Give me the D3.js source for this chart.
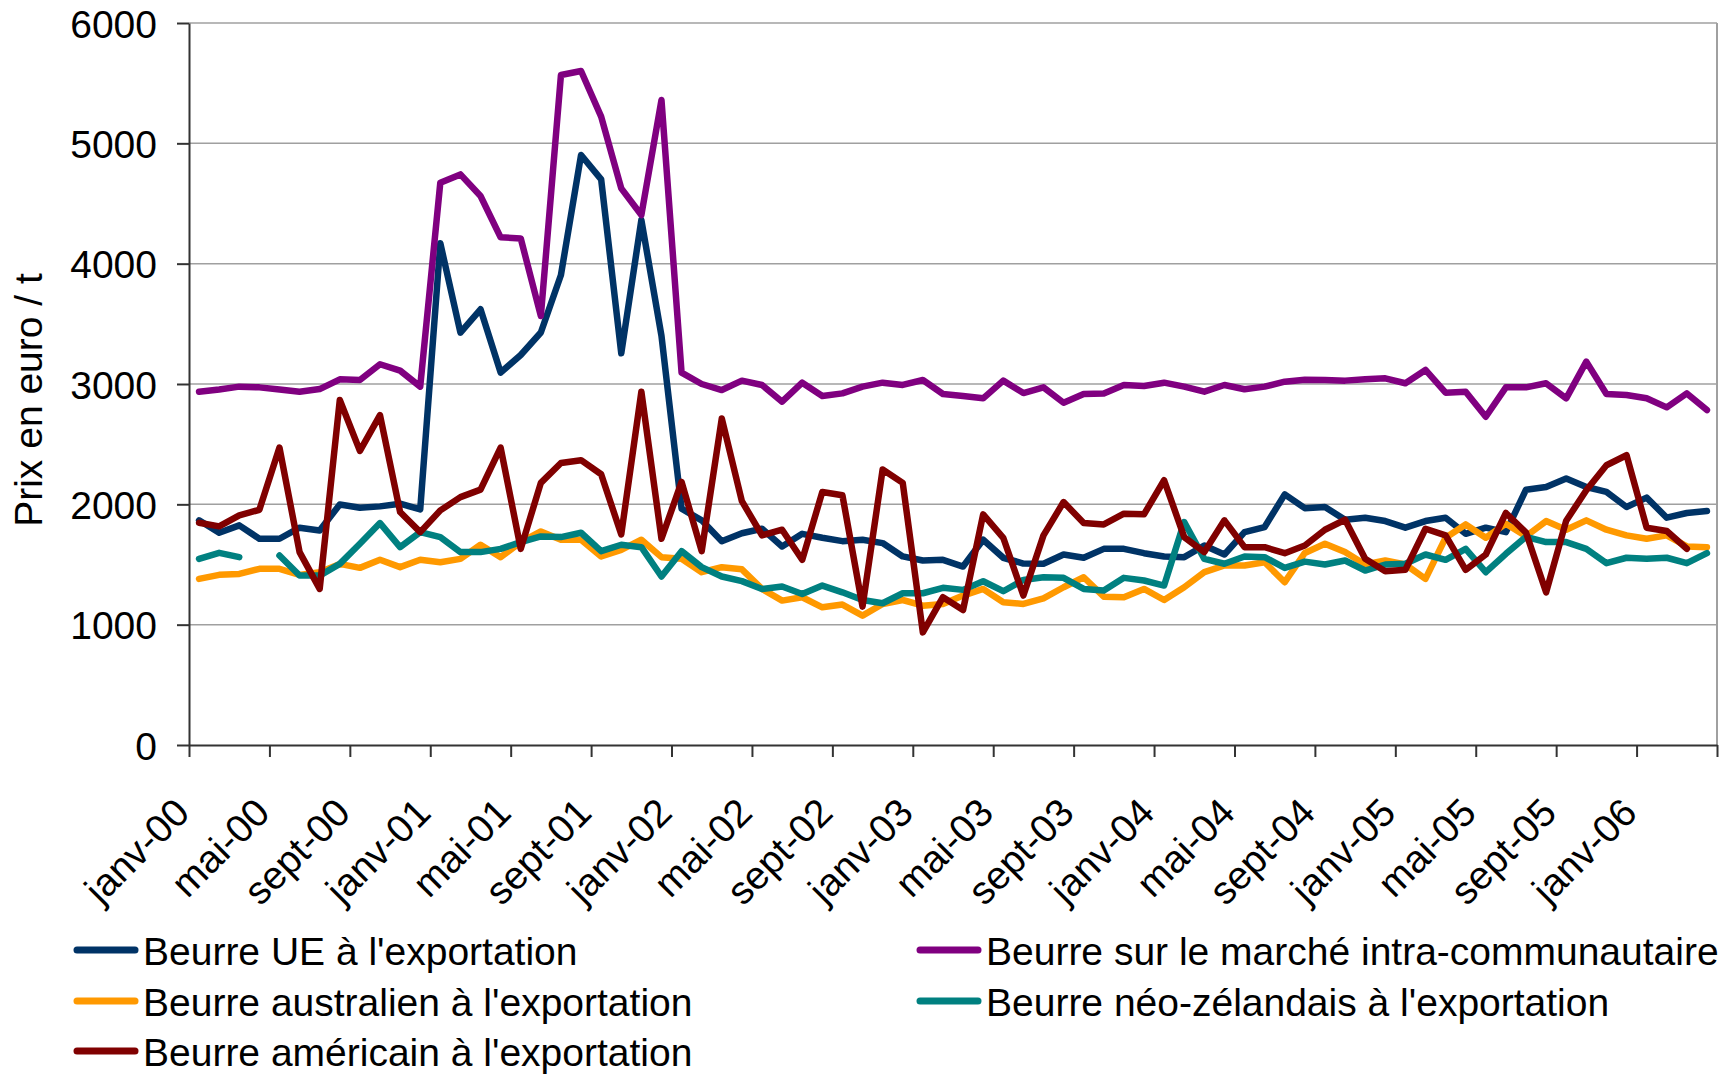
<!DOCTYPE html>
<html>
<head>
<meta charset="utf-8">
<script src="https://cdn.jsdelivr.net/npm/d3@7"></script>
<style>
  body { margin: 0; background: #fff; }
  svg { display: block; }
  text { font-family: "Liberation Sans", Arial, sans-serif; fill: #000; }
</style>
</head>
<body>
<svg id="chart" width="1733" height="1075"></svg>
<script>
// categories: monthly, janv-00 .. avr-06
const monthNames = ['janv', 'févr', 'mars', 'avr', 'mai', 'juin', 'juil', 'août', 'sept', 'oct', 'nov', 'déc'];
const months = d3.range(76).map(i => monthNames[i % 12] + '-' + String(Math.floor(i / 12)).padStart(2, '0'));
const tickLabels = ['janv-00', 'mai-00', 'sept-00', 'janv-01', 'mai-01', 'sept-01', 'janv-02', 'mai-02',
	'sept-02', 'janv-03', 'mai-03', 'sept-03', 'janv-04', 'mai-04', 'sept-04', 'janv-05', 'mai-05',
	'sept-05', 'janv-06'];

// prices in euro / t
const ueExport = [
	1867, 1764, 1825, 1714, 1714, 1806, 1783, 1999, 1972, 1983, 2005, 1958,
	4169, 3427, 3621, 3095, 3241, 3428, 3906, 4903, 4701, 3255, 4363, 3400,
	1964, 1867, 1694, 1760, 1797, 1650, 1755, 1722, 1694, 1706, 1678, 1567,
	1533, 1539, 1483, 1706, 1556, 1508, 1506, 1583, 1556, 1630, 1630, 1594,
	1567, 1561, 1658, 1583, 1769, 1811, 2083, 1968, 1978, 1872, 1889, 1861,
	1806, 1861, 1889, 1755, 1806, 1769, 2122, 2144, 2214, 2144, 2103, 1978,
	2056, 1889, 1928, 1944];
const intraMarket = [
	2936, 2955, 2978, 2972, 2955, 2936, 2958, 3039, 3033, 3164, 3111, 2978,
	4673, 4742, 4562, 4219, 4210, 3565, 5568, 5601, 5222, 4626, 4404, 5360,
	3094, 3000, 2950, 3028, 2992, 2853, 3011, 2900, 2922, 2978, 3011, 2992,
	3033, 2917, 2900, 2881, 3028, 2925, 2972, 2844, 2917, 2922, 2992, 2983,
	3011, 2978, 2936, 2992, 2956, 2978, 3019, 3036, 3033, 3028, 3039, 3047,
	3006, 3117, 2928, 2936, 2728, 2972, 2972, 3006, 2881, 3186, 2917, 2908,
	2881, 2806, 2922, 2783];
const australia = [
	1380, 1414, 1422, 1464, 1464, 1414, 1436, 1505, 1472, 1539, 1478, 1539,
	1519, 1547, 1664, 1561, 1686, 1775, 1706, 1706, 1567, 1622, 1706, 1561,
	1547, 1436, 1478, 1460, 1297, 1200, 1228, 1144, 1167, 1075, 1172, 1205,
	1158, 1172, 1242, 1297, 1186, 1172, 1219, 1311, 1394, 1233, 1228, 1297,
	1205, 1311, 1436, 1492, 1492, 1519, 1353, 1596, 1672, 1603, 1500, 1533,
	1500, 1380, 1722, 1833, 1722, 1839, 1735, 1861, 1789, 1867, 1789, 1742,
	1714, 1742, 1650, 1644];
const newZealand = [
	1547, 1597, 1561, null, 1575, 1408, 1408, 1505, 1672, 1844, 1644, 1769,
	1728, 1603, 1603, 1630, 1686, 1733, 1728, 1764, 1611, 1664, 1644, 1400,
	1611, 1478, 1400, 1362, 1297, 1317, 1255, 1325, 1269, 1205, 1178, 1261,
	1261, 1306, 1289, 1361, 1278, 1372, 1394, 1389, 1297, 1283, 1389, 1367,
	1325, 1853, 1547, 1506, 1567, 1561, 1472, 1524, 1500, 1533, 1450, 1500,
	1506, 1583, 1539, 1630, 1436, 1589, 1730, 1686, 1686, 1630, 1511, 1556,
	1547, 1556, 1511, 1594];
const usa = [
	1847, 1817, 1908, 1955, 2472, 1603, 1297, 2867, 2444, 2742, 1936, 1769,
	1950, 2060, 2122, 2472, 1630, 2178, 2344, 2367, 2250, 1750, 2936, 1714,
	2186, 1611, 2714, 2026, 1742, 1789, 1539, 2103, 2075, 1150, 2289, 2178,
	936, 1228, 1122, 1917, 1722, 1242, 1742, 2019, 1844, 1833, 1922, 1917,
	2200, 1728, 1603, 1867, 1644, 1644, 1594, 1658, 1789, 1872, 1547, 1444,
	1456, 1797, 1742, 1456, 1583, 1928, 1765, 1269, 1864, 2117, 2325, 2408,
	1806, 1778, 1631, null];

const seriesNames = ["Beurre UE à l'exportation", 'Beurre sur le marché intra-communautaire',
	"Beurre australien à l'exportation", "Beurre néo-zélandais à l'exportation",
	"Beurre américain à l'exportation"];
const seriesColors = ['#003366', '#800080', '#FF9900', '#008080', '#800000'];
const seriesValues = [ueExport, intraMarket, australia, newZealand, usa];

const width = 1733;
const margin = { left: 189, right: 16, top: 23, bottom: 330 };
const plotBottom = 745;
const fontSize = 39;

const svg = d3.select('#chart').style('font-size', fontSize + 'px');

const xScale = d3.scaleBand().domain(months).range([margin.left, width - margin.right]);
const xEdge = d3.scaleLinear().domain([0, months.length]).range([margin.left, width - margin.right]);
const yScale = d3.scaleLinear().domain([0, 6000]).range([plotBottom, margin.top]);

// gridlines
svg.append('g')
	.selectAll('line')
	.data(d3.range(1000, 6001, 1000))
	.join('line')
	.attr('x1', margin.left)
	.attr('x2', width - margin.right)
	.attr('y1', d => yScale(d))
	.attr('y2', d => yScale(d))
	.attr('stroke', '#a0a0a0')
	.attr('stroke-width', 1.5);

// right border
svg.append('line')
	.attr('x1', width - margin.right).attr('x2', width - margin.right)
	.attr('y1', margin.top).attr('y2', plotBottom)
	.attr('stroke', '#a0a0a0').attr('stroke-width', 2);

// y axis
const yAxis = d3.axisLeft(yScale).tickValues(d3.range(0, 6001, 1000)).tickSize(12).tickSizeOuter(0).tickPadding(20)
	.tickFormat(d3.format('d'));
const yG = svg.append('g').attr('transform', `translate(${margin.left},0)`).call(yAxis);
yG.selectAll('text').style('font-size', fontSize + 'px').attr('dy', '0.36em');
yG.selectAll('line, path').attr('stroke', '#333').attr('stroke-width', 2);

// x axis, ticks between categories
const xAxis = d3.axisBottom(xEdge).tickValues(d3.range(0, months.length + 1, 4)).tickSize(12).tickSizeOuter(0)
	.tickFormat(i => tickLabels[i / 4] || '');
const xG = svg.append('g').attr('transform', `translate(0,${plotBottom})`).call(xAxis);
xG.selectAll('line, path').attr('stroke', '#333').attr('stroke-width', 2);
xG.selectAll('text')
	.style('font-size', fontSize + 'px')
	.attr('x', 0).attr('y', 0).attr('dy', 0)
	.attr('text-anchor', 'end')
	.attr('transform', 'translate(2,70) rotate(-45)');

// y label
svg.append('text')
	.attr('transform', 'translate(42,400) rotate(-90)')
	.attr('text-anchor', 'middle')
	.text('Prix en euro / t');

// lines
const makeLine = d3.line()
	.defined(d => d.v != null)
	.x(d => xScale(d.m) + xScale.bandwidth() / 2)
	.y(d => yScale(d.v));

seriesValues.forEach((vals, k) => {
	svg.append('path')
		.datum(vals.map((v, i) => ({ m: months[i], v: v })))
		.attr('fill', 'none')
		.attr('stroke', seriesColors[k])
		.attr('stroke-width', 6.5)
		.attr('stroke-linejoin', 'round')
		.attr('stroke-linecap', 'round')
		.attr('d', makeLine);
});

// legend
const legendPos = [[77, 965], [920, 965], [77, 1016], [920, 1016], [77, 1066]];
const legend = svg.append('g')
	.selectAll('g')
	.data(seriesNames)
	.join('g')
	.attr('transform', (d, i) => `translate(${legendPos[i][0]},${legendPos[i][1]})`);
legend.append('line')
	.attr('x1', 0).attr('x2', 58)
	.attr('y1', -15).attr('y2', -15)
	.attr('stroke', (d, i) => seriesColors[i])
	.attr('stroke-width', 7)
	.attr('stroke-linecap', 'round');
legend.append('text')
	.attr('x', 66)
	.text(d => d);
</script>
</body>
</html>
